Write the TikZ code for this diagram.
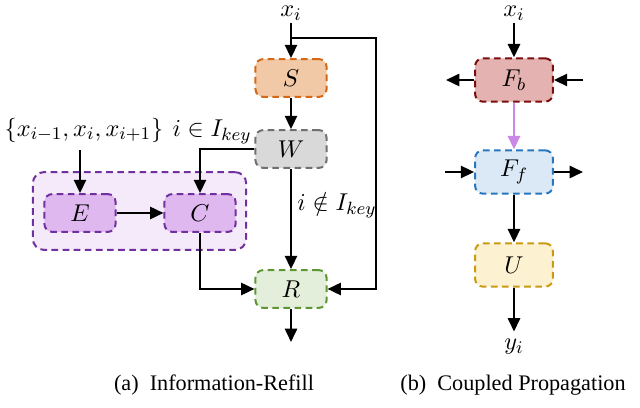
\documentclass[tikz,border=0pt]{standalone}
\usepackage[no-math]{fontspec}
\setmainfont{Liberation Serif}
\usetikzlibrary{arrows.meta,calc}
\definecolor{sfill}{RGB}{242,201,166}\definecolor{sline}{RGB}{212,104,22}
\definecolor{wfill}{RGB}{217,217,217}\definecolor{wline}{RGB}{112,112,112}
\definecolor{efill}{RGB}{223,184,240}\definecolor{eline}{RGB}{112,48,160}
\definecolor{gfill}{RGB}{244,234,249}
\definecolor{rfill}{RGB}{227,239,219}\definecolor{rline}{RGB}{95,150,52}
\definecolor{bfill}{RGB}{228,178,176}\definecolor{bline}{RGB}{122,14,14}
\definecolor{ffill}{RGB}{219,233,246}\definecolor{fline}{RGB}{39,119,192}
\definecolor{ufill}{RGB}{252,241,208}\definecolor{uline}{RGB}{201,154,18}
\definecolor{parrow}{RGB}{204,136,232}
\tikzset{every node/.style={font=\fontsize{11}{13}\selectfont},
  blk/.style={draw, dash pattern=on 3pt off 2pt, rounded corners=3.5pt, line width=0.9pt,
    minimum width=32pt, minimum height=17pt, inner sep=0pt},
  bigblk/.style={blk, minimum width=35pt, minimum height=19.5pt},
  arr/.style={-{Triangle[length=6pt,width=5.5pt]}, line width=0.9pt},
  toplbl/.style={inner sep=1pt},
  captxt/.style={font=\fontsize{10}{12}\selectfont}}

\begin{document}
\begin{tikzpicture}[x=0.45pt,y=0.45pt]
   \useasboundingbox (0,0) rectangle (640,408);
   % (a) information refill
   \begin{scope}
    \node[blk, minimum width=96pt, minimum height=35pt, rounded corners=5pt, draw=eline, fill=gfill] (grp) at (139.5,197) {};
    \node[blk, draw=sline, fill=sfill] (S) at (291,330) {$S$};
    \node[blk, draw=wline, fill=wfill] (W) at (291,259) {$W$};
    \node[blk, draw=eline, fill=efill] (E) at (80,195) {$E$};
    \node[blk, draw=eline, fill=efill] (C) at (200,195) {$C$};
    \node[blk, draw=rline, fill=rfill] (R) at (291,119) {$R$};
    \node[toplbl] (xa) at (291,395) {$x_i$};
    \node (nbr) at (84,278) {$\{x_{i-1},x_i,x_{i+1}\}$};
    \node (inkey) at (212,276) {$i\in I_{key}$};
    \node[anchor=west, inner sep=0pt] (notkey) at (297,203) {$i\notin I_{key}$};
    \coordinate (outa) at (291,66);
    \coordinate (tap) at (291,370);
    \draw[arr] (xa) -- (S);
    \draw[arr] (tap) -- (376,370) -- (376,119) -- (R.east);
    \draw[arr] (S) -- (W);
    \draw[arr] (W.west) -| (C.north);
    \draw[arr] (E |- nbr.south) -- (E.north);
    \draw[arr] (E) -- (C);
    \draw[arr] (C.south) |- (R.west);
    \draw[arr] (W) -- (R);
    \draw[arr] (R) -- (outa);
    \node[captxt] (capa) at (214,23) {(a)\ \ Information-Refill};
   \end{scope}
   % (b) coupled propagation
   \begin{scope}
    \node[bigblk, draw=bline, fill=bfill] (Fb) at (514,328) {$F_b$};
    \node[bigblk, draw=fline, fill=ffill] (Ff) at (514,236) {$F_f$};
    \node[bigblk, draw=uline, fill=ufill] (U) at (514,143) {$U$};
    \node[toplbl] (xb) at (514,395) {$x_i$};
    \node (yb) at (514,61) {$y_i$};
    \coordinate (bl) at (446,328);
    \coordinate (br) at (583,328);
    \coordinate (fl) at (445,236);
    \coordinate (fr) at (583,236);
    \draw[arr] (xb) -- (Fb);
    \draw[arr] (Fb) -- (bl);
    \draw[arr] (br) -- (Fb);
    \draw[arr, parrow] (Fb) -- (Ff);
    \draw[arr] (fl) -- (Ff);
    \draw[arr] (Ff) -- (fr);
    \draw[arr] (Ff) -- (U);
    \draw[arr] (U) -- (yb);
    \node[captxt] (capb) at (513,23) {(b)\ \ Coupled Propagation};
   \end{scope}
  \end{tikzpicture}
\end{document}
